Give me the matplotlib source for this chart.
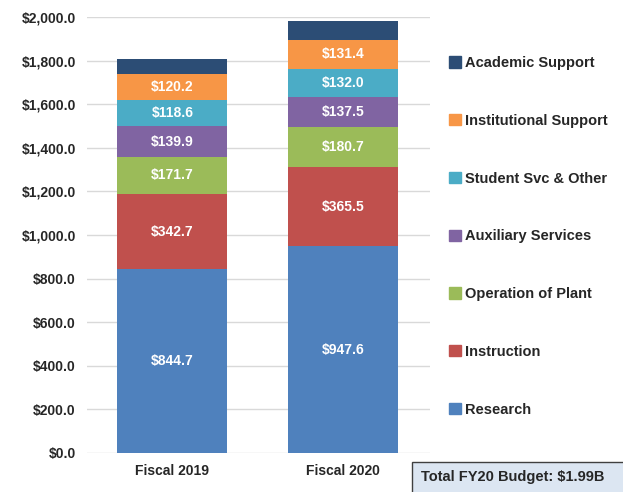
import matplotlib.pyplot as plt
from matplotlib.patches import Patch, Rectangle

plt.rcParams['font.family'] = ['Liberation Sans', 'DejaVu Sans']

years = ['Fiscal 2019', 'Fiscal 2020']
categories = ['Research', 'Instruction', 'Operation of Plant', 'Auxiliary Services',
              'Student Svc & Other', 'Institutional Support', 'Academic Support']
research = [844.7, 947.6]
instruction = [342.7, 365.5]
operation = [171.7, 180.7]
auxiliary = [139.9, 137.5]
student = [118.6, 132.0]
institutional = [120.2, 131.4]
academic = [70.0, 87.0]  # not labelled
series = [research, instruction, operation, auxiliary, student, institutional, academic]
show_label = [True, True, True, True, True, True, False]
colors = ['#4F81BD', '#C0504D', '#9BBB59', '#8064A2', '#4BACC6', '#F79646', '#2C4D75']

fig = plt.figure(figsize=(6.23, 4.92), dpi=100)
ax = fig.add_axes([0.1396, 0.0793, 0.551, 0.886])

x = [0, 1]
bottom = [0, 0]
for vals, name, col, lab in zip(series, categories, colors, show_label):
    bars = ax.bar(x, vals, 0.643, bottom=bottom, color=col, label=name, zorder=3)
    if lab:
        ax.bar_label(bars, labels=['$%.1f' % v for v in vals], label_type='center',
                     color='white', fontweight='bold', fontsize=10)
    bottom = [b + v for b, v in zip(bottom, vals)]

ax.set_ylim(0, 2000)
ax.set_xlim(-0.5, 1.51)
ax.set_yticks(range(0, 2001, 200))
ax.set_yticklabels(['$%s' % format(v, ',.1f') for v in range(0, 2001, 200)])
ax.set_xticks(x)
ax.set_xticklabels(years)
ax.tick_params(length=0, labelsize=10, labelcolor='#262626', pad=8)
for t in ax.get_xticklabels() + ax.get_yticklabels():
    t.set_fontweight('bold')
ax.grid(axis='y', color='#D9D9D9', linewidth=1, zorder=0)
for s in ax.spines.values():
    s.set_visible(False)

handles = [Patch(color=c) for c in colors][::-1]
fig.legend(handles, categories[::-1], loc='upper left', bbox_to_anchor=(0.721, 0.886),
           frameon=False, prop={'weight': 'bold', 'size': 10.5}, labelcolor='#262626',
           handlelength=0.8, handleheight=0.8, handletextpad=0.3, labelspacing=3.0,
           borderaxespad=0, borderpad=0)

fig.patches.append(Rectangle((412 / 623, -0.01), 0.35, 30 / 492 + 0.01,
                             transform=fig.transFigure, facecolor='#DCE6F2',
                             edgecolor='#404040', linewidth=1))
fig.text(421 / 623, 15 / 492, 'Total FY20 Budget: $1.99B', fontsize=10.5, fontweight='bold',
         color='#262626', va='center', ha='left')

fig.savefig('out.png', dpi=100)
